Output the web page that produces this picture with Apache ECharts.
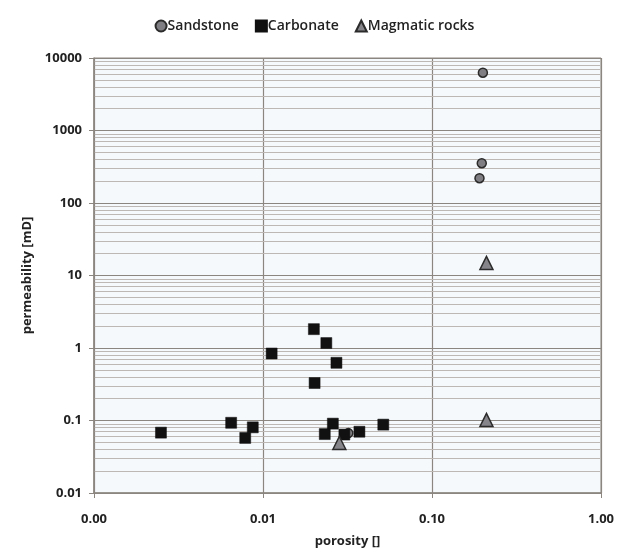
<!DOCTYPE html>
<html>
<head>
<meta charset="utf-8">
<script src="https://cdn.jsdelivr.net/npm/echarts@6/dist/echarts.min.js"></script>
<style>
  html, body { margin: 0; padding: 0; background: #fff; }
  #chart { width: 629px; height: 553px; }
</style>
</head>
<body>
<div id="chart"></div>
<script>
// porosity [-] / permeability [mD]
const sandstonePorosity = [0.200, 0.197, 0.191, 0.032];
const sandstonePerm = [6270, 354, 220, 0.067];

const carbonatePorosity = [0.00249, 0.00648, 0.0087, 0.00785, 0.01125, 0.0200, 0.0237, 0.0272, 0.0202, 0.0259, 0.0232, 0.0303, 0.0372, 0.0515];
const carbonatePerm = [0.068, 0.093, 0.0805, 0.0575, 0.84, 1.82, 1.17, 0.625, 0.329, 0.0905, 0.065, 0.064, 0.070, 0.0877];

const magmaticPorosity = [0.210, 0.210, 0.0283];
const magmaticPerm = [14.9, 0.102, 0.049];

// minor grid lines 2..9 in each decade of the y axis
const yDecades = [0.01, 0.1, 1, 10, 100, 1000];
const yMinorSteps = [2, 3, 4, 5, 6, 7, 8, 9];

const pairs = (xs, ys) => xs.map((x, i) => [x, ys[i]]);

const minorLines = [];
yDecades.forEach(d => yMinorSteps.forEach(s => minorLines.push({ yAxis: +(d * s).toPrecision(3) })));

const FONT = '"Open Sans", sans-serif';
const chart = echarts.init(document.getElementById('chart'));

const option = {
  backgroundColor: '#ffffff',
  textStyle: { fontFamily: FONT },
  legend: {
    top: 14,
    left: 'center',
    itemGap: 16,
    itemWidth: 11,
    itemHeight: 11,
    textStyle: { fontFamily: FONT, fontSize: 14, fontWeight: 600, color: '#222', padding: [0, 0, 0, -4] },
    data: [
      { name: 'Sandstone', icon: 'circle' },
      { name: 'Carbonate', icon: 'rect' },
      { name: 'Magmatic rocks', icon: 'triangle' },
    ],
  },
  grid: {
    left: 94, right: 28, top: 58, bottom: 59,
    show: true, backgroundColor: '#f6f9fc', borderColor: '#8c8680', borderWidth: 1,
  },
  xAxis: {
    type: 'log',
    logBase: 10,
    min: 0.001,
    max: 1,
    name: 'porosity []',
    nameLocation: 'middle',
    nameGap: 42,
    nameTextStyle: { fontFamily: FONT, fontSize: 13, fontWeight: 'bold', color: '#222' },
    axisLine: { show: true, lineStyle: { color: '#8c8680', width: 1.5 } },
    axisTick: { show: true, length: 5, lineStyle: { color: '#8c8680' } },
    axisLabel: {
      margin: 20, fontFamily: FONT, fontSize: 13, fontWeight: 'bold', color: '#222',
      formatter: v => Number(v).toFixed(2),
    },
    splitLine: { show: true, lineStyle: { color: '#8c8680', width: 1.2 } },
  },
  yAxis: {
    type: 'log',
    logBase: 10,
    min: 0.01,
    max: 10000,
    name: 'permeability [mD]',
    nameLocation: 'middle',
    nameGap: 56,
    nameTextStyle: { fontFamily: FONT, fontSize: 13, fontWeight: 'bold', color: '#222' },
    axisLine: { show: true, lineStyle: { color: '#8c8680', width: 1.5 } },
    axisTick: { show: true, length: 5, lineStyle: { color: '#8c8680' } },
    axisLabel: {
      margin: 12, fontFamily: FONT, fontSize: 13, fontWeight: 'bold', color: '#222',
      formatter: v => String(+Number(v).toPrecision(3)),
    },
    splitLine: { show: true, lineStyle: { color: '#8c8680', width: 1.2 } },
  },
  series: [
    {
      // minor gridlines only
      name: 'minor',
      type: 'scatter',
      data: [],
      silent: true,
      z: 0,
      markLine: {
        silent: true,
        z: 0,
        zlevel: 0,
        symbol: ['none', 'none'],
        label: { show: false },
        lineStyle: { color: '#bdb8b3', width: 1, type: 'solid' },
        data: minorLines,
      },
    },
    {
      name: 'Sandstone',
      type: 'scatter',
      symbol: 'circle',
      symbolSize: 9,
      z: 6,
      itemStyle: { color: '#7f7f83', borderColor: '#2b2b2b', borderWidth: 1.5, opacity: 1 },
      data: pairs(sandstonePorosity, sandstonePerm),
    },
    {
      name: 'Carbonate',
      type: 'scatter',
      symbol: 'rect',
      symbolSize: 11,
      z: 7,
      itemStyle: { color: '#111111', borderColor: '#111111', borderWidth: 0.5, opacity: 1 },
      data: pairs(carbonatePorosity, carbonatePerm),
    },
    {
      name: 'Magmatic rocks',
      type: 'scatter',
      symbol: 'triangle',
      symbolSize: 13,
      z: 8,
      itemStyle: { color: '#85858a', borderColor: '#2b2b2b', borderWidth: 1.5, opacity: 1 },
      data: pairs(magmaticPorosity, magmaticPerm),
    },
  ],
};

chart.setOption(option);
</script>
</body>
</html>
